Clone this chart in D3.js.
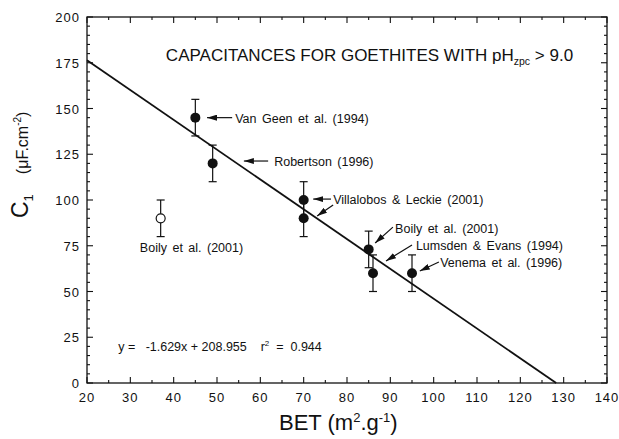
<!DOCTYPE html>
<html><head><meta charset="utf-8">
<script src="https://cdn.jsdelivr.net/npm/d3@7"></script>
<style>body{margin:0;background:#fff}svg{display:block}text{font-family:"Liberation Sans",Arial,Helvetica,sans-serif;fill:#111}</style>
</head><body><div id="c"></div>
<script>
// ---- data ----
const xTicks = [20,30,40,50,60,70,80,90,100,110,120,130,140];
const yTicks = [0,25,50,75,100,125,150,175,200];
const filledX = [45,49,70,70,85,86,95];
const filledY = [145,120,100,90,73,60,60];
const filledErr = [10,10,10,10,10,10,10];
const openX = [37];
const openY = [90];
const openErr = [10];
const slope = -1.629, intercept = 208.955;
const labels = ["Van Geen et al. (1994)","Robertson  (1996)","Villalobos & Leckie (2001)","Boily et al. (2001)","Lumsden & Evans  (1994)","Venema et al. (1996)","Boily et al. (2001)"];
const labelX = [54.2,63.2,76.8,91.1,95.9,101.5,32.2];
const labelY = [144.8,121.3,100.5,84.2,75.4,66.1,74.3];
// arrows: [x1,y1,x2,y2] in data units, head at (x2,y2)
const arrowX1 = [53.5,61.8,76.3,76.8,90.6,95.0,101.2];
const arrowY1 = [145,121.3,100.5,97.3,85.2,75.4,66.1];
const arrowX2 = [47.7,56.2,72.2,73.1,86.5,89.0,96.8];
const arrowY2 = [145,121.3,100.5,91.3,76.5,66.7,61.2];

const W=619,H=439;
const svg=d3.select("#c").append("svg").attr("width",W).attr("height",H);
const x=d3.scaleLinear().domain([20,140]).range([87,607]);
const y=d3.scaleLinear().domain([0,200]).range([383,17]);
const minorX=d3.range(20,141,5), minorY=d3.range(0,201,5);

// frame
svg.append("rect").attr("x",x(20)).attr("y",y(200)).attr("width",x(140)-x(20)).attr("height",y(0)-y(200))
  .attr("fill","none").attr("stroke","#111").attr("stroke-width",1.3);

// ticks (inward, all four sides)
const tk=svg.append("g").attr("stroke","#111").attr("stroke-width",1.1);
minorX.forEach(v=>{const L=(v%10===0)?6:3;
  tk.append("line").attr("x1",x(v)).attr("x2",x(v)).attr("y1",y(0)).attr("y2",y(0)-L);
  tk.append("line").attr("x1",x(v)).attr("x2",x(v)).attr("y1",y(200)).attr("y2",y(200)+L);});
minorY.forEach(v=>{const L=(v%25===0)?6:3;
  tk.append("line").attr("y1",y(v)).attr("y2",y(v)).attr("x1",x(20)).attr("x2",x(20)+L);
  tk.append("line").attr("y1",y(v)).attr("y2",y(v)).attr("x1",x(140)).attr("x2",x(140)-L);});

// tick labels
svg.append("g").selectAll("text").data(xTicks).join("text")
  .attr("x",d=>x(d)).attr("y",y(0)+19).attr("text-anchor","middle")
  .attr("font-size",13).attr("letter-spacing",1).text(d=>d);
svg.append("g").selectAll("text").data(yTicks).join("text")
  .attr("x",x(20)-7).attr("y",d=>y(d)+5).attr("text-anchor","end")
  .attr("font-size",13).attr("letter-spacing",1).text(d=>d);

// axis titles
const xt=svg.append("text").attr("x",279).attr("y",430).attr("font-size",22);
xt.append("tspan").text("BET (m");
xt.append("tspan").attr("font-size",13).attr("dy",-8).text("2");
xt.append("tspan").attr("dy",8).text(".g");
xt.append("tspan").attr("font-size",13).attr("dy",-8).text("-1");
xt.append("tspan").attr("dy",8).text(")");

const yt=svg.append("text").attr("transform","translate(28,218) rotate(-90)").attr("font-size",16);
yt.append("tspan").attr("font-size",23).text("C");
yt.append("tspan").attr("font-size",13).attr("dy",5).text("1");
yt.append("tspan").attr("dy",-5).attr("dx",20).text("(\u03bcF.cm");
yt.append("tspan").attr("font-size",10).attr("dy",-7).text("-2");
yt.append("tspan").attr("dy",7).text(")");

// regression line
const x0=20, xEnd=-intercept/slope;
svg.append("line").attr("x1",x(x0)).attr("y1",y(slope*x0+intercept))
  .attr("x2",x(xEnd)).attr("y2",y(slope*xEnd+intercept))
  .attr("stroke","#111").attr("stroke-width",1.8);

// error bars
function errBars(xs,ys,es){
  const g=svg.append("g").attr("stroke","#111").attr("stroke-width",1.2);
  xs.forEach((v,i)=>{
    g.append("line").attr("x1",x(v)).attr("x2",x(v)).attr("y1",y(ys[i]-es[i])).attr("y2",y(ys[i]+es[i]));
    [ys[i]-es[i],ys[i]+es[i]].forEach(e=>g.append("line").attr("x1",x(v)-4).attr("x2",x(v)+4).attr("y1",y(e)).attr("y2",y(e)));
  });
}
errBars(filledX,filledY,filledErr);
errBars(openX,openY,openErr);
svg.append("g").selectAll("circle").data(filledX).join("circle")
  .attr("cx",d=>x(d)).attr("cy",(d,i)=>y(filledY[i])).attr("r",5).attr("fill","#111");
svg.append("g").selectAll("circle").data(openX).join("circle")
  .attr("cx",d=>x(d)).attr("cy",(d,i)=>y(openY[i])).attr("r",4.5).attr("fill","#fff").attr("stroke","#111").attr("stroke-width",1.2);

// annotations
svg.append("defs").append("marker").attr("id","ah").attr("viewBox","0 0 10 6").attr("refX",10).attr("refY",3)
  .attr("markerWidth",10).attr("markerHeight",6).attr("markerUnits","userSpaceOnUse").attr("orient","auto")
  .append("path").attr("d","M0,0L10,3L0,6Z").attr("fill","#111");
const ag=svg.append("g").attr("stroke","#111").attr("stroke-width",1.2);
arrowX1.forEach((v,i)=>ag.append("line").attr("x1",x(v)).attr("y1",y(arrowY1[i])).attr("x2",x(arrowX2[i])).attr("y2",y(arrowY2[i])).attr("marker-end","url(#ah)"));
svg.append("g").selectAll("text").data(labels).join("text")
  .attr("x",(d,i)=>x(labelX[i])).attr("y",(d,i)=>y(labelY[i])+4.5).attr("font-size",12.5).attr("word-spacing",2).text(d=>d);

// title
const tt=svg.append("text").attr("x",x(38.2)).attr("y",y(179.2)+6).attr("font-size",17);
tt.append("tspan").text("CAPACITANCES FOR GOETHITES WITH pH");
tt.append("tspan").attr("font-size",10.5).attr("dy",4).text("zpc");
tt.append("tspan").attr("dy",-4).text(" > 9.0");

// equation
const eq=svg.append("text").attr("x",x(27.2)).attr("y",y(19.7)+4.5).attr("font-size",12.5).attr("xml:space","preserve");
eq.append("tspan").text("y =   -1.629x + 208.955    r");
eq.append("tspan").attr("font-size",8).attr("dy",-5).text("2");
eq.append("tspan").attr("dy",5).text("  =  0.944");
</script></body></html>
